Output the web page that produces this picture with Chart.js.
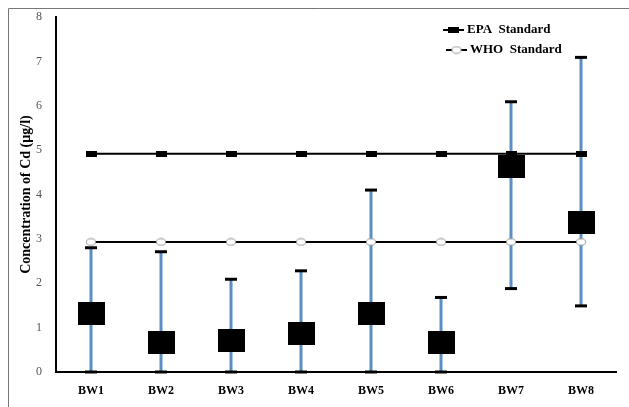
<!DOCTYPE html>
<html>
<head>
<meta charset="utf-8">
<script src="https://cdn.jsdelivr.net/npm/chart.js@4/dist/chart.umd.min.js"></script>
<style>
  html, body { margin: 0; padding: 0; background: #fff; }
  #wrap { width: 629px; height: 407px; position: relative; }
</style>
</head>
<body>
<div id="wrap"><canvas id="c" width="629" height="407"></canvas></div>
<script>
// ---- data ----
const categories = ['BW1', 'BW2', 'BW3', 'BW4', 'BW5', 'BW6', 'BW7', 'BW8'];
const meanValues = [1.32, 0.67, 0.71, 0.86, 1.31, 0.67, 4.64, 3.37];
const lowerValues = [0, 0, 0, 0, 0, 0, 1.88, 1.49];
const upperValues = [2.8, 2.71, 2.09, 2.28, 4.1, 1.68, 6.09, 7.09];
const epaValues = [4.92, 4.92, 4.92, 4.92, 4.92, 4.92, 4.92, 4.92];
const whoValues = [2.93, 2.93, 2.93, 2.93, 2.93, 2.93, 2.93, 2.93];
const yTicks = [0, 1, 2, 3, 4, 5, 6, 7, 8];

const SERIF = '"Liberation Serif", "Times New Roman", serif';

function makeCanvas(w, h, draw) {
  const cv = document.createElement('canvas');
  cv.width = w; cv.height = h;
  draw(cv.getContext('2d'), w, h);
  return cv;
}
const boxMarker = makeCanvas(27, 23, (g, w, h) => { g.fillStyle = '#000'; g.fillRect(0, 0, w, h); });
const epaMarker = makeCanvas(11, 6, (g, w, h) => { g.fillStyle = '#000'; g.fillRect(0, 0, w, h); });
const whoMarker = makeCanvas(12, 9, (g, w, h) => {
  g.beginPath(); g.ellipse(w / 2, h / 2, 4.6, 3.3, 0, 0, Math.PI * 2);
  g.fillStyle = '#fff'; g.fill(); g.lineWidth = 1; g.strokeStyle = '#999'; g.stroke();
});

const framePlugin = {
  id: 'frame',
  beforeDraw(chart) {
    const ctx = chart.ctx;
    ctx.save();
    ctx.fillStyle = '#fff';
    ctx.fillRect(0, 0, chart.width, chart.height);
    ctx.strokeStyle = '#777';
    ctx.lineWidth = 1;
    ctx.beginPath();
    ctx.moveTo(8.5, chart.height);
    ctx.lineTo(8.5, 8.5);
    ctx.lineTo(chart.width, 8.5);
    ctx.stroke();
    ctx.restore();
  }
};

const errorBarPlugin = {
  id: 'errorBars',
  beforeDatasetsDraw(chart) {
    const ctx = chart.ctx;
    const xs = chart.scales.x, ys = chart.scales.y;
    ctx.save();
    categories.forEach((c, i) => {
      const x = xs.getPixelForValue(i);
      const yl = ys.getPixelForValue(lowerValues[i]);
      const yu = ys.getPixelForValue(upperValues[i]);
      ctx.strokeStyle = '#5b8fc4';
      ctx.lineWidth = 3;
      ctx.beginPath(); ctx.moveTo(x, yl); ctx.lineTo(x, yu); ctx.stroke();
      ctx.strokeStyle = '#000';
      ctx.lineWidth = 3;
      [yl, yu].forEach(yy => {
        ctx.beginPath(); ctx.moveTo(x - 6, yy); ctx.lineTo(x + 6, yy); ctx.stroke();
      });
    });
    ctx.restore();
  }
};

const legendPlugin = {
  id: 'customLegend',
  afterDraw(chart) {
    const ctx = chart.ctx;
    ctx.save();
    const items = [
      { label: chart.data.datasets[1].label, marker: epaMarker, y: 30, x0: 443 },
      { label: chart.data.datasets[2].label, marker: whoMarker, y: 50, x0: 446 }
    ];
    items.forEach(it => {
      ctx.strokeStyle = '#000'; ctx.lineWidth = 2;
      ctx.beginPath(); ctx.moveTo(it.x0, it.y); ctx.lineTo(it.x0 + 21, it.y); ctx.stroke();
      ctx.drawImage(it.marker, it.x0 + 10.5 - it.marker.width / 2, it.y - it.marker.height / 2);
      ctx.fillStyle = '#000';
      ctx.font = 'bold 13px ' + SERIF;
      ctx.textBaseline = 'middle';
      ctx.textAlign = 'left';
      ctx.fillText(it.label, it.x0 + 24, it.y);
    });
    ctx.restore();
  }
};

new Chart(document.getElementById('c'), {
  type: 'line',
  data: {
    labels: categories,
    datasets: [
      {
        label: 'Mean',
        data: meanValues,
        showLine: false,
        pointStyle: boxMarker,
        pointRadius: 12,
        order: 0
      },
      {
        label: 'EPA  Standard',
        data: epaValues,
        borderColor: '#000',
        borderWidth: 2,
        pointStyle: epaMarker,
        pointRadius: 6,
        order: 1
      },
      {
        label: 'WHO  Standard',
        data: whoValues,
        borderColor: '#000',
        borderWidth: 2,
        pointStyle: whoMarker,
        pointRadius: 6,
        order: 1
      }
    ]
  },
  options: {
    responsive: false,
    animation: false,
    layout: { padding: { top: 17, right: 10, left: 0, bottom: 0 } },
    plugins: { legend: { display: false }, tooltip: { enabled: false } },
    scales: {
      x: {
        type: 'category',
        offset: true,
        grid: { display: false },
        border: { display: true, color: '#000', width: 2 },
        ticks: { color: '#000', font: { family: SERIF, size: 12, weight: 'bold' }, padding: 4 },
        afterFit(s) { s.height = 35; }
      },
      y: {
        min: 0, max: 8,
        grid: { display: false },
        border: { display: true, color: '#000', width: 2 },
        afterBuildTicks(s) { s.ticks = yTicks.map(v => ({ value: v })); },
        ticks: { color: '#555', font: { family: SERIF, size: 12 }, padding: 6 },
        title: {
          display: true,
          text: 'Concentration of Cd (µg/l)',
          color: '#000',
          font: { family: SERIF, size: 14, weight: 'bold' },
          padding: { top: 18, bottom: 4 }
        },
        afterFit(s) { s.width = 56; }
      }
    }
  },
  plugins: [framePlugin, errorBarPlugin, legendPlugin]
});
</script>
</body>
</html>
